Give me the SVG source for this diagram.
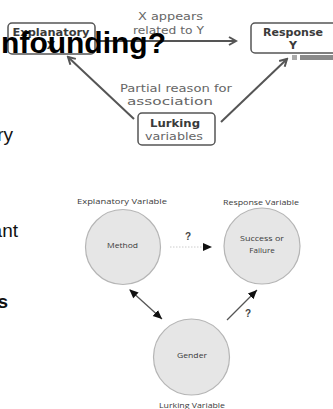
<svg xmlns="http://www.w3.org/2000/svg" width="333" height="409" viewBox="0 0 333 409">
<style>
.tt{font-family:"DejaVu Sans",sans-serif;font-size:11px;fill:#666;text-anchor:middle;font-weight:500}
.tb{font-family:"DejaVu Sans",sans-serif;font-size:11px;fill:#3a3a3a;text-anchor:middle;font-weight:bold}
.box{fill:#fff;stroke:#555;stroke-width:1.5}
.tl{stroke:#555;stroke-width:2;fill:none}
.bl{font-family:"Open Sans","Liberation Sans",sans-serif;font-size:8px;fill:#3a3a3a;text-anchor:middle}
.circ{fill:#e6e6e6;stroke:#b5b5b5;stroke-width:1.2}
.side{font-family:"Liberation Sans",Arial,sans-serif;font-size:19px;fill:#111;text-anchor:end}
</style>
<defs>
<marker id="chev" markerWidth="10" markerHeight="10" refX="8" refY="5" orient="auto" markerUnits="userSpaceOnUse">
<path d="M1,1 L8,5 L1,9" fill="none" stroke="#555" stroke-width="2"/>
</marker>
<marker id="tri" markerWidth="10" markerHeight="10" refX="9" refY="5" orient="auto" markerUnits="userSpaceOnUse">
<path d="M0,1 L9,5 L0,9 z" fill="#111"/>
</marker>
<marker id="tris" markerWidth="10" markerHeight="10" refX="1" refY="5" orient="auto" markerUnits="userSpaceOnUse">
<path d="M9,1 L0,5 L9,9 z" fill="#111"/>
</marker>
</defs>

<g id="side-text">
<text class="side" x="13" y="141">ry</text>
<text class="side" x="18" y="237">ant</text>
<text class="side" x="8" y="308" font-weight="bold">s</text>
</g>

<g id="connectors">
<line class="tl" x1="97" y1="41" x2="236" y2="41" marker-end="url(#chev)"/>
<line class="tl" x1="134" y1="119" x2="68" y2="57" marker-end="url(#chev)"/>
<line class="tl" x1="221" y1="122" x2="287" y2="59" marker-end="url(#chev)"/>
<line x1="170" y1="247" x2="212" y2="247" stroke="#ccc" stroke-width="1" stroke-dasharray="1.5 1.5" marker-end="url(#tri)"/>
<line x1="227" y1="320" x2="257" y2="290" stroke="#555" stroke-width="1.3" marker-end="url(#tri)"/>
<line x1="130" y1="290" x2="162" y2="319" stroke="#555" stroke-width="1.3" marker-start="url(#tris)" marker-end="url(#tri)"/>
</g>

<g id="label-x-appears">
<text class="tt" x="170.5" y="20" textLength="65" lengthAdjust="spacingAndGlyphs">X appears</text>
<text class="tt" x="168.5" y="34" textLength="71" lengthAdjust="spacingAndGlyphs">related to Y</text>
</g>

<g id="explanatory-box">
<rect class="box" x="8" y="23" width="87" height="31" rx="4"/>
<text class="tb" x="51" y="36" textLength="77" lengthAdjust="spacingAndGlyphs">Explanatory</text>
<text class="tb" x="51" y="49">X</text>
</g>

<g id="response-box">
<rect class="box" x="251" y="23" width="95" height="30" rx="4"/>
<text class="tb" x="293" y="36" textLength="60" lengthAdjust="spacingAndGlyphs">Response</text>
<text class="tb" x="293" y="49">Y</text>
<rect x="292" y="55" width="5" height="5" fill="#aaa"/>
<rect x="300" y="55" width="33" height="5" fill="#8a8a8a"/>
</g>

<g id="label-partial">
<text class="tt" x="176" y="92" textLength="112" lengthAdjust="spacingAndGlyphs">Partial reason for</text>
<text class="tt" x="170" y="105" textLength="86" lengthAdjust="spacingAndGlyphs">association</text>
</g>

<g id="lurking-box">
<rect class="box" x="138" y="113" width="77" height="32" rx="4"/>
<text class="tb" x="175" y="127" textLength="50" lengthAdjust="spacingAndGlyphs">Lurking</text>
<text class="tt" x="174" y="140" textLength="58" lengthAdjust="spacingAndGlyphs">variables</text>
</g>

<g id="title">
<text x="166" y="53" font-family="Liberation Sans,Arial,sans-serif" font-size="30" font-weight="bold" fill="#000" text-anchor="end">nfounding?</text>
</g>

<g id="method">
<text class="bl" x="122" y="204" textLength="90" lengthAdjust="spacingAndGlyphs">Explanatory Variable</text>
<circle class="circ" cx="123" cy="247" r="37.5"/>
<text class="bl" x="122.5" y="248" textLength="31" lengthAdjust="spacingAndGlyphs">Method</text>
</g>

<g id="success">
<text class="bl" x="261" y="205" textLength="76" lengthAdjust="spacingAndGlyphs">Response Variable</text>
<circle class="circ" cx="262" cy="246" r="38"/>
<text class="bl" x="262" y="241" textLength="44" lengthAdjust="spacingAndGlyphs">Success or</text>
<text class="bl" x="262" y="253">Failure</text>
</g>

<g id="gender">
<circle class="circ" cx="191.5" cy="357" r="38"/>
<text class="bl" x="192" y="358" textLength="30" lengthAdjust="spacingAndGlyphs">Gender</text>
<text class="bl" x="192" y="408" textLength="66" lengthAdjust="spacingAndGlyphs">Lurking Variable</text>
</g>

<g id="qmarks">
<text x="188" y="240" font-family="Liberation Sans,sans-serif" font-size="10" font-weight="bold" fill="#444" text-anchor="middle">?</text>
<text x="248" y="317" font-family="Liberation Sans,sans-serif" font-size="10" font-weight="bold" fill="#444" text-anchor="middle">?</text>
</g>
</svg>
